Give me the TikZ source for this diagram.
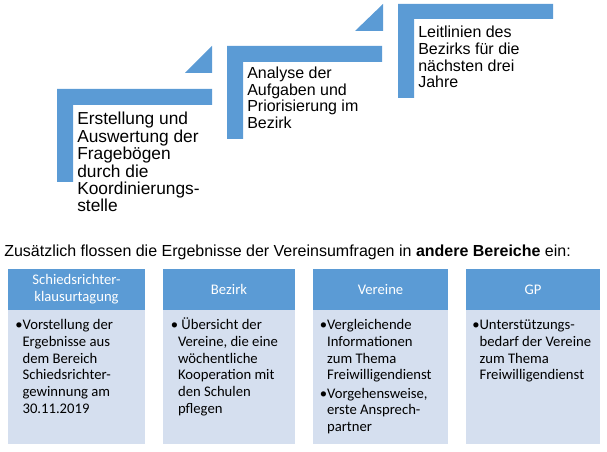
\documentclass[tikz,border=0pt]{standalone}
\usepackage{fontspec}
\setmainfont{Liberation Sans}
\newfontfamily\calib{Carlito}
\definecolor{accblue}{HTML}{5B9BD5}
\definecolor{bodyblue}{HTML}{D5DFEF}
\newcommand\bind{\hphantom{•}}
\begin{document}
\begin{tikzpicture}[x=0.75pt,y=-0.75pt,
  chev/.style={fill=accblue,draw=none},
  steptext/.style={anchor=north west,inner sep=0pt,align=left,font=\fontsize{12}{12.5}\selectfont},
  bigsteptext/.style={steptext,font=\fontsize{13}{13.1}\selectfont},
  hdrbox/.style={fill=accblue,draw=none},
  bodybox/.style={fill=bodyblue,draw=none},
  hdrtext/.style={text=white,align=center,inner sep=0pt,font=\calib\fontsize{11}{12.5}\selectfont},
  bodytext/.style={anchor=north west,inner sep=0pt,align=left,font=\calib\fontsize{11}{12.5}\selectfont}]
\useasboundingbox (0,0) rectangle (607,452);

% chevron-like steps
\fill[chev] (57,89) -- (212,89) -- (212,105) -- (73,105) -- (73,182) -- (57,182) -- cycle;
\fill[chev] (185,73) -- (212,46) -- (212,73) -- cycle;
\fill[chev] (227,46) -- (382,46) -- (382,62) -- (243,62) -- (243,139) -- (227,139) -- cycle;
\fill[chev] (355,31) -- (383,4) -- (383,31) -- cycle;
\fill[chev] (398,4) -- (553,4) -- (553,19) -- (414,19) -- (414,98) -- (398,98) -- cycle;

\node[bigsteptext] (t1) at (77,108.4) {\rule{0pt}{12pt}Erstellung und\\Auswertung der\\Fragebögen\\durch die\\Koordinierungs-\\stelle};
\node[steptext] (t2) at (247,62.1) {\rule{0pt}{12pt}Analyse der\\Aufgaben und\\Priorisierung im\\Bezirk};
\node[steptext] (t3) at (418,21.5) {\rule{0pt}{12pt}Leitlinien des\\Bezirks für die\\nächsten drei\\Jahre};

\node[anchor=base west,inner sep=0pt,font=\fontsize{12}{14}\selectfont] (lead) at (4,256.5)
  {Zusätzlich flossen die Ergebnisse der Vereinsumfragen in \textbf{andere Bereiche} ein:};

% boxes
\fill[hdrbox] (8,269) rectangle (145,310);
\fill[bodybox] (8,310) rectangle (145,444);
\fill[hdrbox] (163,269) rectangle (295,310);
\fill[bodybox] (163,310) rectangle (295,444);
\fill[hdrbox] (313,269) rectangle (448,310);
\fill[bodybox] (313,310) rectangle (448,444);
\fill[hdrbox] (466,269) rectangle (600,310);
\fill[bodybox] (466,310) rectangle (600,444);

\node[hdrtext] (h1) at (76.5,289.5) {Schiedsrichter-\\klausurtagung};
\node[hdrtext] (h2) at (229,289.5) {Bezirk};
\node[hdrtext] (h3) at (380.5,289.5) {Vereine};
\node[hdrtext] (h4) at (533,289.5) {GP};

\node[bodytext] (b1) at (15,316.2) {\rule{0pt}{10pt}•Vorstellung der\\\bind Ergebnisse aus\\\bind dem Bereich\\\bind Schiedsrichter-\\\bind gewinnung am\\\bind 30.11.2019};
\node[bodytext] (b2) at (170.5,316.2) {\rule{0pt}{10pt}• Übersicht der\\\bind Vereine, die eine\\\bind wöchentliche\\\bind Kooperation mit\\\bind den Schulen\\\bind pflegen};
\node[bodytext] (b3) at (319.5,316.2) {\rule{0pt}{10pt}•Vergleichende\\\bind Informationen\\\bind zum Thema\\\bind Freiwilligendienst\\[1.3pt]•Vorgehensweise,\\\bind erste Ansprech-\\\bind partner};
\node[bodytext] (b4) at (472,316.2) {\rule{0pt}{10pt}•Unterstützungs-\\\bind bedarf der Vereine\\\bind zum Thema\\\bind Freiwilligendienst};
\end{tikzpicture}
\end{document}
